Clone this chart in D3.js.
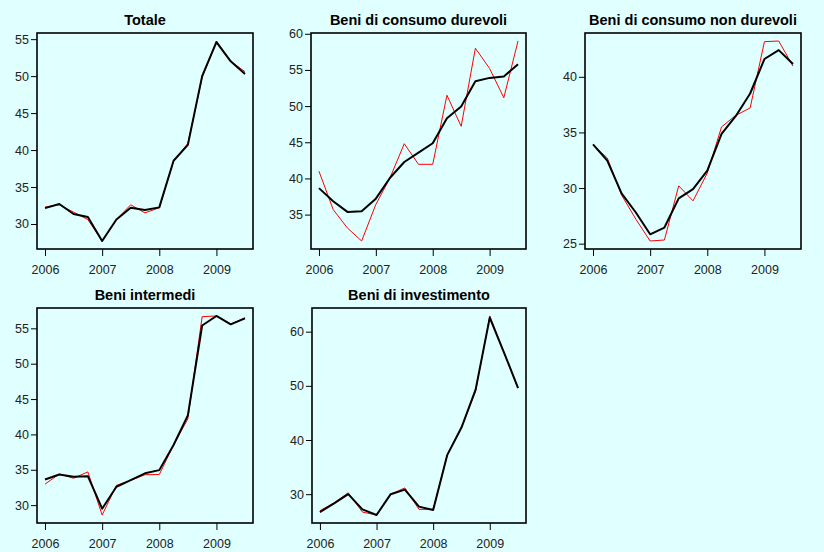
<!DOCTYPE html>
<html><head><meta charset="utf-8">
<script src="https://cdn.jsdelivr.net/npm/d3@7"></script>
<style>body{margin:0;background:#E0FFFF} svg{display:block}</style>
</head><body><svg id="c" width="824" height="552"></svg>
<script>
const quarters = [2006,2006.25,2006.5,2006.75,2007,2007.25,2007.5,2007.75,2008,2008.25,2008.5,2008.75,2009,2009.25,2009.5];
const xTicks = [2006,2007,2008,2009];
const titles = ["Totale","Beni di consumo durevoli","Beni di consumo non durevoli","Beni intermedi","Beni di investimento"];

const totaleRaw   = [32.3,32.6,31.6,30.6,27.7,30.6,32.6,31.5,32.2,38.5,40.9,49.8,54.75,52.0,50.6];
const totaleTrend = [32.15,32.7,31.35,30.95,27.7,30.6,32.2,31.9,32.25,38.55,40.7,50.0,54.6,52.0,50.3];
const totaleTicks = [30,35,40,45,50,55];

const durevoliRaw   = [41.0,35.7,33.15,31.35,36.4,40.1,44.8,41.95,41.95,51.5,47.2,58.0,55.2,51.15,59.0];
const durevoliTrend = [38.66,36.85,35.37,35.46,37.2,40.1,42.27,43.56,44.86,48.33,49.95,53.43,53.9,54.1,55.8];
const durevoliTicks = [35,40,45,50,55,60];

const nonDurevoliRaw   = [33.9,32.7,29.37,27.2,25.24,25.33,30.2,28.85,31.35,35.5,36.54,37.2,43.16,43.22,40.96];
const nonDurevoliTrend = [33.92,32.47,29.52,27.8,25.84,26.45,29.07,29.9,31.57,34.88,36.48,38.5,41.6,42.4,41.15];
const nonDurevoliTicks = [25,30,35,40];

const intermediRaw   = [32.97,34.4,33.8,34.7,28.6,32.8,33.5,34.3,34.33,38.5,42.2,56.65,56.75,55.6,56.5];
const intermediTrend = [33.63,34.34,34.0,34.1,29.5,32.6,33.54,34.5,34.95,38.5,42.7,55.4,56.75,55.57,56.4];
const intermediTicks = [30,35,40,45,50,55];

const investRaw   = [26.95,28.4,30.25,26.7,26.15,30.0,31.15,27.2,27.2,37.3,42.3,49.0,62.9,56.2,49.6];
const investTrend = [26.7,28.3,30.0,27.2,26.16,30.0,30.85,27.7,27.07,37.26,42.3,49.3,62.6,56.2,49.6];
const investTicks = [30,40,50,60];

const panels = [
  {title:titles[0], raw:totaleRaw, trend:totaleTrend, ticks:totaleTicks, box:[37,33,253,249]},
  {title:titles[1], raw:durevoliRaw, trend:durevoliTrend, ticks:durevoliTicks, box:[311,33,526,249]},
  {title:titles[2], raw:nonDurevoliRaw, trend:nonDurevoliTrend, ticks:nonDurevoliTicks, box:[585,33,801,249]},
  {title:titles[3], raw:intermediRaw, trend:intermediTrend, ticks:intermediTicks, box:[37,308,253,523]},
  {title:titles[4], raw:investRaw, trend:investTrend, ticks:investTicks, box:[312,308,526,523]}
];

const svg = d3.select("#c");
svg.append("rect").attr("width",824).attr("height",552).attr("fill","#E0FFFF");
const font = "'Liberation Sans', Arial, Helvetica, sans-serif";

panels.forEach(p => {
  const [x0,y0,x1,y1] = p.box;
  const xe = d3.extent(quarters), xr = xe[1]-xe[0];
  const x = d3.scaleLinear().domain([xe[0]-0.04*xr, xe[1]+0.04*xr]).range([x0,x1]);
  const all = p.raw.concat(p.trend);
  const ye = d3.extent(all), yr = ye[1]-ye[0];
  const y = d3.scaleLinear().domain([ye[0]-0.04*yr, ye[1]+0.04*yr]).range([y1,y0]);
  const g = svg.append("g");

  const line = d3.line().x((d,i)=>x(quarters[i])).y(d=>y(d));
  g.append("path").datum(p.raw).attr("d",line).attr("fill","none").attr("stroke","#FF0000").attr("stroke-width",1).attr("stroke-linejoin","round");
  g.append("path").datum(p.trend).attr("d",line).attr("fill","none").attr("stroke","#000").attr("stroke-width",2).attr("stroke-linejoin","round");

  const ax = g.append("g").attr("transform",`translate(0,${y1})`)
    .call(d3.axisBottom(x).tickValues(xTicks).tickFormat(d3.format("d")).tickSize(7).tickPadding(9));
  const ay = g.append("g").attr("transform",`translate(${x0},0)`)
    .call(d3.axisLeft(y).tickValues(p.ticks).tickFormat(d3.format("d")).tickSize(6).tickPadding(2));
  [ax,ay].forEach(a=>{
    a.select(".domain").remove();
    a.selectAll("line").attr("stroke","#000").attr("stroke-width",1);
    a.selectAll("text").attr("fill","#222").style("font-family",font).style("font-size","12.5px");
  });

  g.append("rect").attr("x",x0).attr("y",y0).attr("width",x1-x0).attr("height",y1-y0)
    .attr("fill","none").attr("stroke","#000").attr("stroke-width",1.6);

  g.append("text").attr("x",(x0+x1)/2).attr("y",y0-8).attr("text-anchor","middle")
    .style("font-family",font).style("font-size","14.5px").style("font-weight","bold").attr("fill","#000").text(p.title);
});
</script></body></html>
